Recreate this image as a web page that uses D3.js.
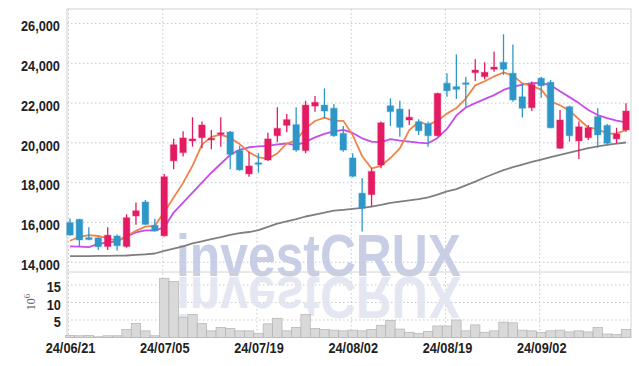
<!DOCTYPE html>
<html><head><meta charset="utf-8">
<script src="https://cdn.jsdelivr.net/npm/d3@7"></script>
<style>body{margin:0;background:#fff}svg{display:block}</style>
</head><body><svg id="c" width="639" height="366"></svg>
<script>
const dates=["24/06/21","24/06/24","24/06/25","24/06/26","24/06/27","24/06/28","24/07/01","24/07/02","24/07/03","24/07/04",
"24/07/05","24/07/08","24/07/09","24/07/10","24/07/11","24/07/12","24/07/15","24/07/16","24/07/17","24/07/18",
"24/07/19","24/07/22","24/07/23","24/07/24","24/07/25","24/07/26","24/07/29","24/07/30","24/07/31","24/08/01",
"24/08/02","24/08/05","24/08/06","24/08/07","24/08/08","24/08/09","24/08/12","24/08/13","24/08/14","24/08/16",
"24/08/19","24/08/20","24/08/21","24/08/22","24/08/23","24/08/26","24/08/27","24/08/28","24/08/29","24/08/30",
"24/09/02","24/09/03","24/09/04","24/09/05","24/09/06","24/09/09","24/09/10","24/09/11","24/09/12","24/09/13"];
const openP=[15990,16160,15240,15230,14790,15320,14790,16330,17030,15860,
15330,19100,19510,20100,20260,20160,20430,20550,19620,18440,
19000,19140,20360,20880,20920,19610,21850,21900,21740,20480,
19240,17470,17400,18890,21870,21700,21150,21070,20950,20360,
23000,22830,23020,23530,23330,23700,24050,23500,22320,21770,
23250,23050,19730,21820,20100,20260,21320,20880,20200,20650];
const highP=[16200,16180,15760,15260,15760,15400,16410,17000,17130,16190,
18440,20210,20580,21290,21070,20650,21290,20600,19850,19550,
19480,20510,21790,21450,21790,22120,22360,22740,21950,20850,
19480,18220,18720,21070,22240,22120,21690,21190,21070,22520,
23500,24450,23330,24200,24050,24590,25460,24950,23000,23080,
23330,23160,21650,21870,21070,20900,21740,20950,20760,21990];
const lowP=[15330,14800,15100,14620,14620,14590,14730,15880,15880,15540,
15300,18670,19310,19810,19730,19680,19810,18670,18600,18300,
18500,19090,20030,20530,19560,19480,21570,21240,20310,19560,
18270,15540,16800,18720,20850,20310,20900,20400,19810,20330,
22320,22210,21820,23110,23190,23580,23410,22070,21270,21600,
22270,20730,19690,20060,19190,20150,19760,19930,19980,20560];
const closeP=[15370,15120,15140,14780,15360,14830,16240,16590,15900,15570,
18300,19910,20250,20200,20900,20230,20510,19420,18640,18840,
18930,20200,20730,21170,19640,21900,22040,21600,20360,19640,
18320,16710,18570,21010,21570,20780,21290,20610,20360,22490,
22620,22690,22990,23660,23550,23810,23700,22160,21740,22940,
22870,20760,21150,20360,20810,20760,20400,19980,20450,21600];
const volume=[0.6,0.5,0.6,0.2,0.5,0.5,2.3,4.0,1.9,0.5,
16.9,16.0,5.8,6.6,4.0,1.9,2.9,2.6,1.9,1.9,
1.2,3.9,5.5,1.9,2.9,6.6,2.6,2.3,2.1,1.9,
2.1,1.9,2.3,3.5,4.9,2.4,1.5,1.2,1.7,3.3,
3.3,5.0,1.9,3.6,1.5,1.9,4.4,4.2,2.1,1.9,
1.4,1.9,2.1,1.6,1.9,1.6,2.9,1.0,0.9,2.3];
const ma5=[15080,15280,15360,15320,15200,15080,15300,15580,15790,15830,
16520,17250,17990,18850,19910,20300,20420,20250,19940,19530,
19270,19210,19470,19970,20130,20730,21100,21270,21110,21110,
20390,19330,18720,18850,19240,19730,20640,21050,20920,21110,
21470,21750,22230,22890,23100,23340,23540,23380,22990,22870,
22680,22090,21890,21620,21190,20770,20700,20460,20480,20640];
const ma20=[14800,14790,14760,14920,15000,15050,15300,15500,15600,15600,
15750,16500,17000,17500,18000,18500,18950,19400,19650,19780,
19820,19850,19930,19970,19880,20050,20280,20450,20580,20650,
20500,20230,20060,20030,20190,20110,20060,20010,19980,20250,
20700,21380,21780,22000,22200,22400,22660,22820,22930,23000,
23010,22900,22600,22300,22000,21650,21400,21250,21120,21030];
const ma60=[14310,14310,14310,14320,14320,14330,14340,14370,14400,14440,
14570,14680,14800,14950,15050,15160,15260,15380,15460,15520,
15610,15780,15940,16060,16170,16300,16400,16500,16590,16630,
16680,16730,16800,16880,16980,17045,17110,17170,17260,17400,
17560,17680,17860,18050,18260,18450,18630,18780,18910,19040,
19160,19280,19400,19510,19620,19740,19820,19900,19960,20020];
const priceTicks=[14000,16000,18000,20000,22000,24000,26000];
const volTicks=[5,10,15];
const dateTicks=["24/06/21","24/07/05","24/07/19","24/08/02","24/08/19","24/09/02"];

const W=639,H=366,L=67,R=631,T=9,MID=272,B=337.5;
const UP="#e31b62",DOWN="#2e97c8";
const svg=d3.select("#c");
svg.append("rect").attr("width",W).attr("height",H).attr("fill","#fff");
const x=d3.scalePoint().domain(dates).range([70,626]);
const y=d3.scaleLinear().domain([13510,26730]).range([MID,T]);
const yv=d3.scaleLinear().domain([0,18.7]).range([B,MID]);
const step=x.step();

// grid
const grid=svg.append("g").attr("stroke","#c3c7da").attr("stroke-width",1).attr("stroke-dasharray","1.5,2.5");
grid.selectAll(".hg").data(priceTicks).join("line").attr("x1",L).attr("x2",R).attr("y1",d=>y(d)).attr("y2",d=>y(d));
grid.selectAll(".vg").data(volTicks).join("line").attr("x1",L).attr("x2",R).attr("y1",d=>yv(d)).attr("y2",d=>yv(d));
grid.selectAll(".xg").data(dateTicks).join("line").attr("x1",d=>x(d)-1.5).attr("x2",d=>x(d)-1.5).attr("y1",T).attr("y2",B);

// watermark (with mirrored reflection)
const wm=svg.append("g").attr("font-family","Liberation Sans, Arial, sans-serif").attr("font-weight","bold").attr("font-size",60);
wm.append("text").attr("x",176).attr("y",276).attr("textLength",285).attr("lengthAdjust","spacingAndGlyphs")
  .attr("fill","#c3cae3").attr("opacity",0.92).text("investCRUX");
wm.append("text").attr("x",176).attr("y",-277).attr("transform","scale(1,-1)").attr("textLength",285).attr("lengthAdjust","spacingAndGlyphs")
  .attr("fill","#e2e5f0").attr("opacity",0.9).text("investCRUX");

// borders
const bd=svg.append("g").attr("stroke","#d2d2d2").attr("fill","none");
bd.append("rect").attr("x",L).attr("y",T).attr("width",R-L).attr("height",B-T);
bd.append("line").attr("x1",L).attr("x2",R).attr("y1",MID).attr("y2",MID);

// volume bars
svg.append("g").selectAll("rect").data(dates).join("rect")
  .attr("x",d=>x(d)-step/2).attr("width",step)
  .attr("y",(d,i)=>yv(volume[i])).attr("height",(d,i)=>yv(0)-yv(volume[i]))
  .attr("fill","#d9d9d9").attr("stroke","#b3b3b3").attr("stroke-width",0.7);

// MA lines
function maLine(arr,color){
  svg.append("path").datum(dates).attr("fill","none").attr("stroke",color).attr("stroke-width",1.8)
    .attr("stroke-linejoin","round")
    .attr("d",d3.line().x(d=>x(d)).y((d,i)=>y(arr[i])));
}
maLine(ma60,"#7f7f7f");
maLine(ma20,"#c64de8");
maLine(ma5,"#f0834a");

// candles
const cg=svg.append("g");
dates.forEach((d,i)=>{
  const o=openP[i],c=closeP[i],col=c>=o?UP:DOWN;
  cg.append("line").attr("x1",x(d)).attr("x2",x(d)).attr("y1",y(highP[i])).attr("y2",y(lowP[i]))
    .attr("stroke",col).attr("stroke-width",1.3);
  const top=y(Math.max(o,c)),bot=y(Math.min(o,c));
  cg.append("rect").attr("x",x(d)-3.3).attr("width",6.6).attr("y",top).attr("height",Math.max(1.6,bot-top))
    .attr("fill",col).attr("stroke",col).attr("stroke-opacity",0.25).attr("stroke-width",1.5);
});

// axes
const FONT="Liberation Sans Narrow, Arial Narrow, Liberation Sans, sans-serif";
function styleAxis(g){
  g.select(".domain").remove();
  g.selectAll("text").attr("font-family",FONT).attr("font-weight","bold").attr("font-size",14.5).attr("fill","#222");
}
svg.append("g").attr("transform",`translate(${L},0)`)
  .call(d3.axisLeft(y).tickValues(priceTicks).tickSize(0).tickPadding(8).tickFormat(d3.format(",")))
  .call(styleAxis).selectAll("text").attr("dy","0.5em").attr("transform","scale(0.88,1)");
svg.append("g").attr("transform",`translate(${L},0)`)
  .call(d3.axisLeft(yv).tickValues(volTicks).tickSize(0).tickPadding(7).tickFormat(d3.format("d")))
  .call(styleAxis).selectAll("text").attr("dy","0.48em").attr("transform","scale(0.88,1)");
svg.append("g").attr("transform",`translate(0,${B})`)
  .call(d3.axisBottom(x).tickValues(dateTicks).tickSize(0).tickPadding(5.5))
  .call(styleAxis).selectAll("text").attr("transform","scale(0.88,1)");

// unit label
const ul=svg.append("text").attr("transform","translate(35,302) rotate(-90)").attr("text-anchor","middle")
  .attr("font-family","Liberation Serif, serif").attr("font-size",12).attr("fill","#555");
ul.append("tspan").text("10");
ul.append("tspan").attr("dy",-5).attr("font-size",9).text("6");
</script></body></html>
